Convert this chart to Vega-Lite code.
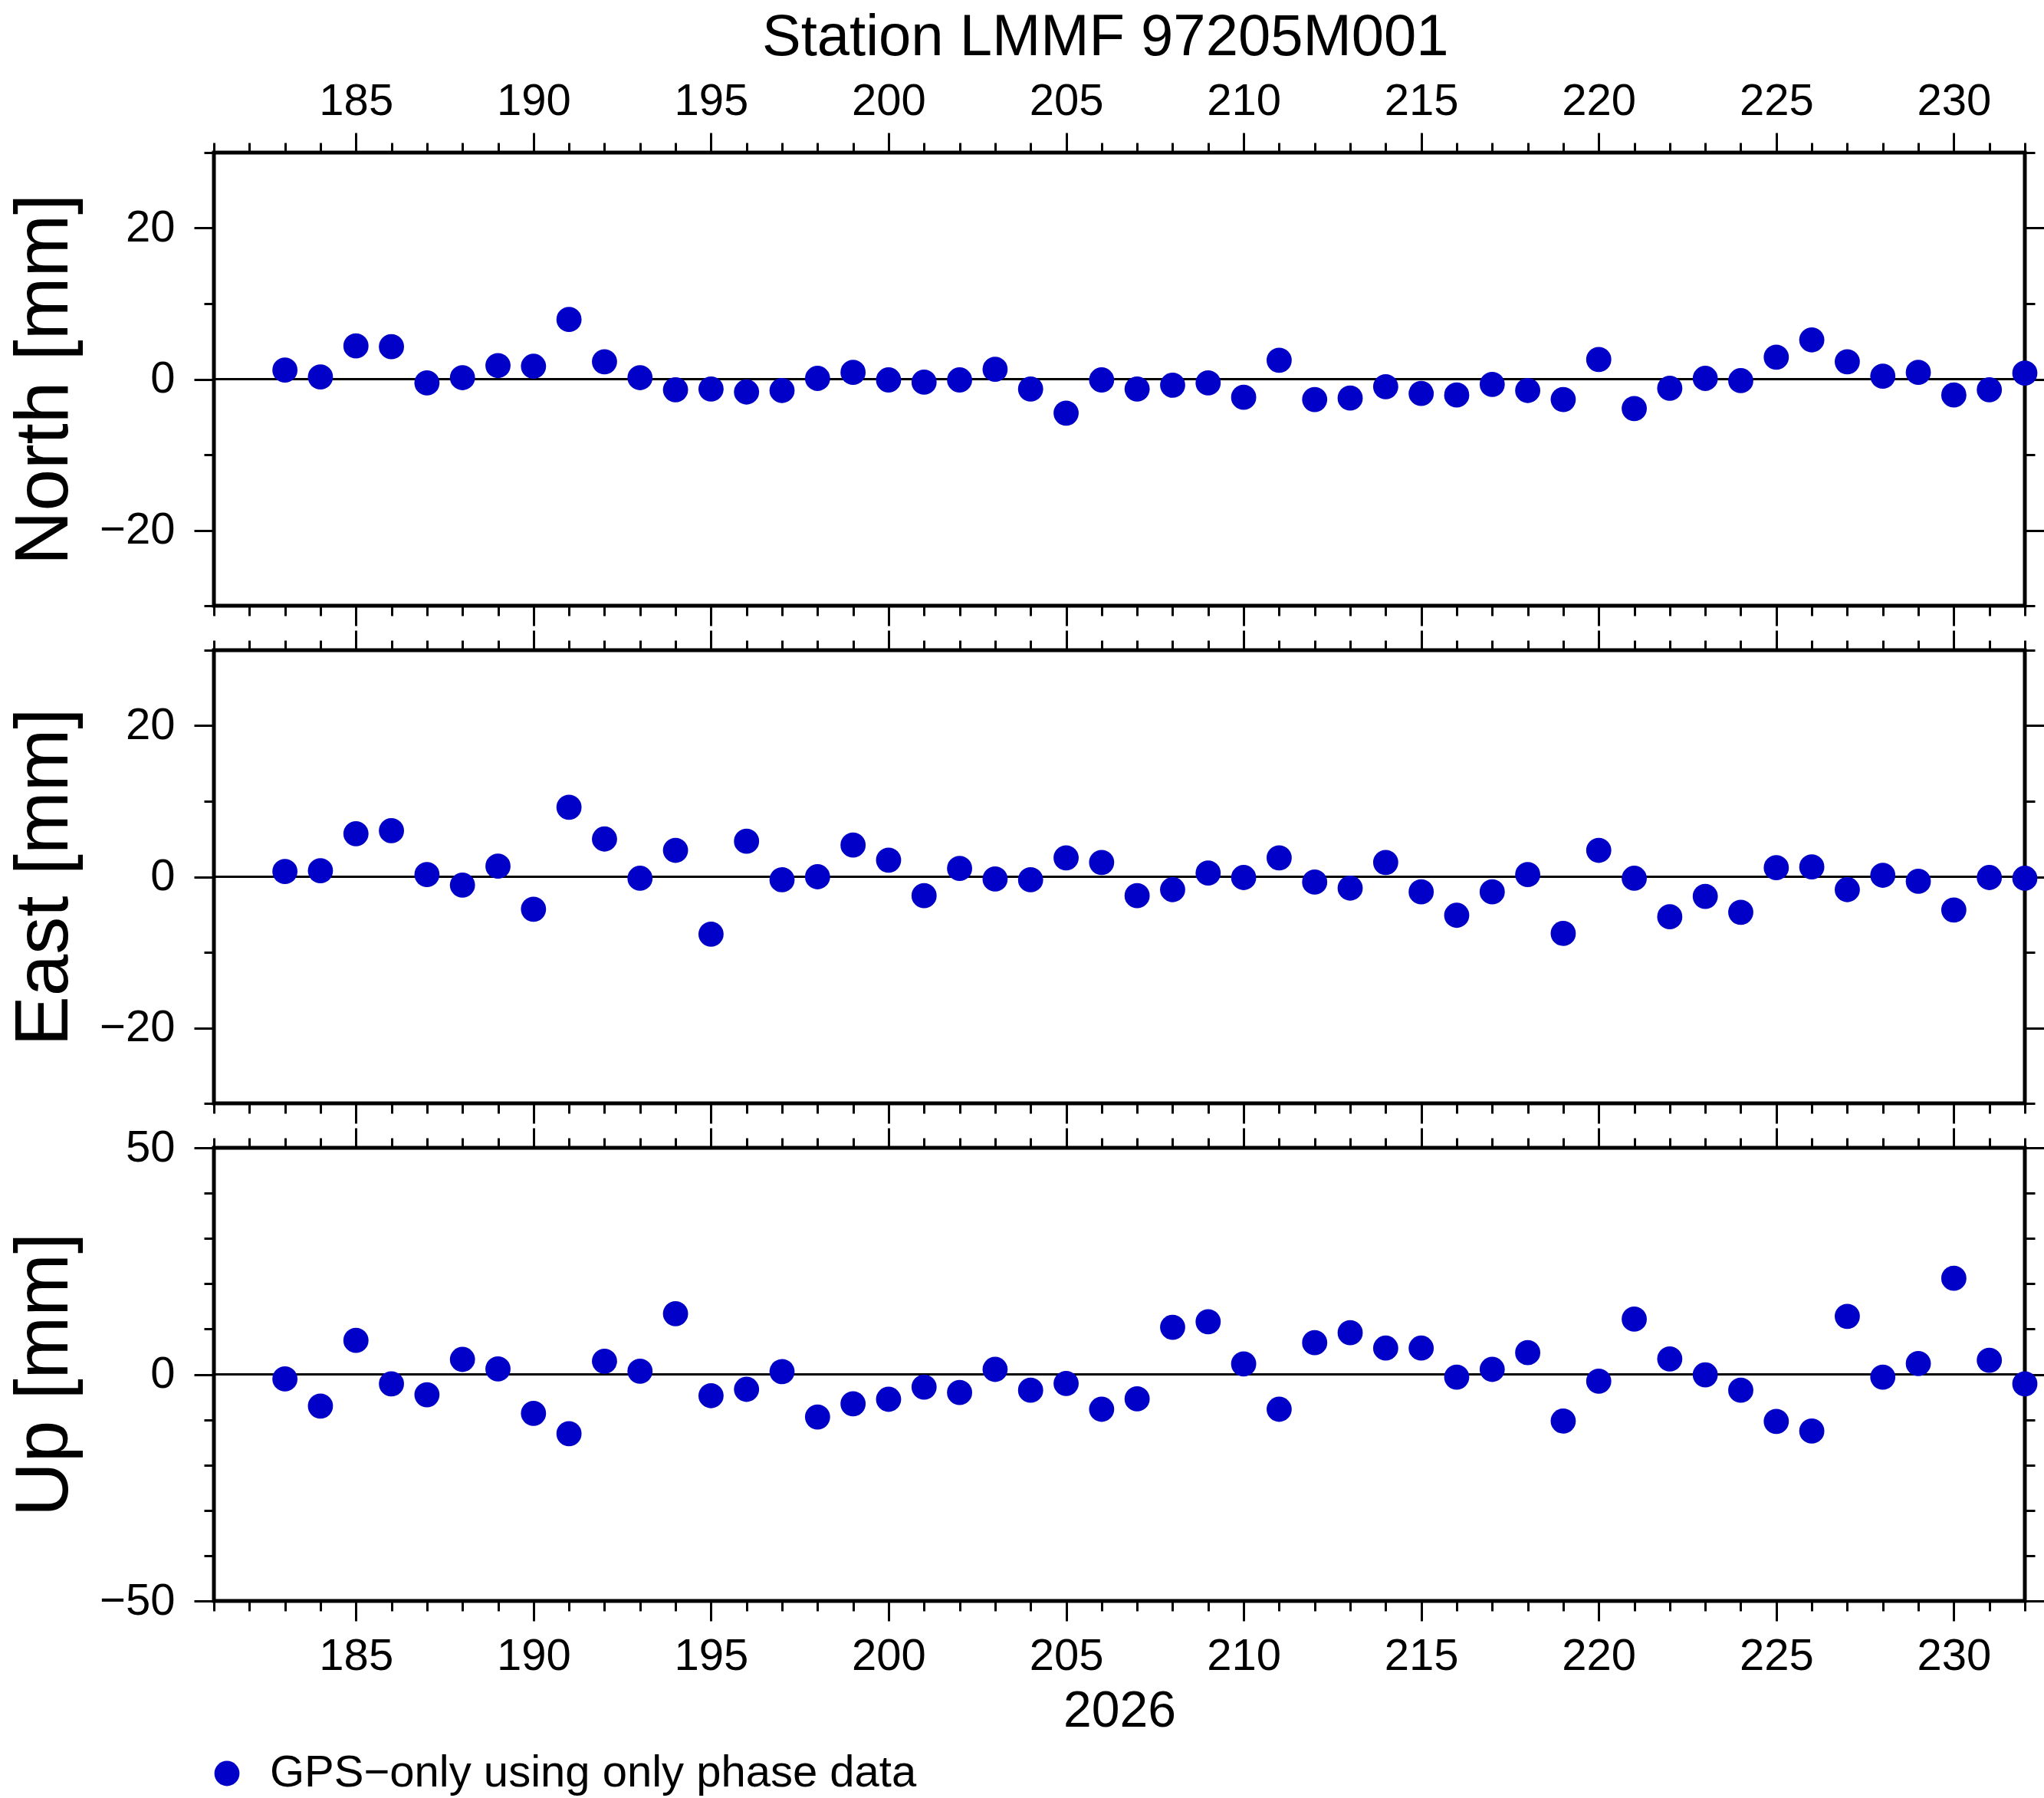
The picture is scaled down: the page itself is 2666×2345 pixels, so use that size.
{
  "$schema": "https://vega.github.io/schema/vega-lite/v6.json",
  "padding": {"left": 6, "top": 10, "right": 0, "bottom": 0},
  "background": "white",
  "title": {"text": "Station LMMF 97205M001", "fontSize": 76, "font": "Liberation Sans", "fontWeight": "normal", "color": "black", "anchor": "middle", "dx": 103, "offset": 13},
  "config": {
    "view": {"stroke": "black", "strokeWidth": 5},
    "axis": {"domain": false, "grid": false, "tickColor": "black", "tickWidth": 3, "labelFont": "Liberation Sans", "labelFontSize": 58, "labelColor": "black", "titleFont": "Liberation Sans", "titleFontWeight": "normal", "titleColor": "black", "labelOverlap": false, "labelFlush": false}
  },
  "data": {"values": [
    {"day": 183, "north": 1.2, "east": 0.7, "up": -1.0},
    {"day": 184, "north": 0.3, "east": 0.8, "up": -7.0},
    {"day": 185, "north": 4.4, "east": 5.7, "up": 7.5},
    {"day": 186, "north": 4.3, "east": 6.1, "up": -2.1},
    {"day": 187, "north": -0.5, "east": 0.3, "up": -4.5},
    {"day": 188, "north": 0.2, "east": -1.1, "up": 3.3},
    {"day": 189, "north": 1.8, "east": 1.4, "up": 1.2},
    {"day": 190, "north": 1.7, "east": -4.3, "up": -8.6},
    {"day": 191, "north": 7.9, "east": 9.2, "up": -13.1},
    {"day": 192, "north": 2.3, "east": 5.0, "up": 2.9},
    {"day": 193, "north": 0.2, "east": -0.2, "up": 0.7},
    {"day": 194, "north": -1.4, "east": 3.5, "up": 13.4},
    {"day": 195, "north": -1.3, "east": -7.6, "up": -4.7},
    {"day": 196, "north": -1.7, "east": 4.7, "up": -3.3},
    {"day": 197, "north": -1.5, "east": -0.4, "up": 0.6},
    {"day": 198, "north": 0.1, "east": 0.0, "up": -9.4},
    {"day": 199, "north": 0.9, "east": 4.2, "up": -6.5},
    {"day": 200, "north": -0.1, "east": 2.2, "up": -5.5},
    {"day": 201, "north": -0.4, "east": -2.5, "up": -2.8},
    {"day": 202, "north": -0.1, "east": 1.1, "up": -4.0},
    {"day": 203, "north": 1.3, "east": -0.3, "up": 1.1},
    {"day": 204, "north": -1.3, "east": -0.4, "up": -3.5},
    {"day": 205, "north": -4.5, "east": 2.5, "up": -2.0},
    {"day": 206, "north": -0.1, "east": 1.9, "up": -7.7},
    {"day": 207, "north": -1.3, "east": -2.5, "up": -5.4},
    {"day": 208, "north": -0.8, "east": -1.7, "up": 10.4},
    {"day": 209, "north": -0.5, "east": 0.5, "up": 11.6},
    {"day": 210, "north": -2.4, "east": -0.1, "up": 2.3},
    {"day": 211, "north": 2.5, "east": 2.5, "up": -7.7},
    {"day": 212, "north": -2.7, "east": -0.7, "up": 7.0},
    {"day": 213, "north": -2.5, "east": -1.5, "up": 9.2},
    {"day": 214, "north": -1.0, "east": 1.9, "up": 5.8},
    {"day": 215, "north": -1.9, "east": -2.0, "up": 5.8},
    {"day": 216, "north": -2.1, "east": -5.1, "up": -0.6},
    {"day": 217, "north": -0.7, "east": -2.0, "up": 1.1},
    {"day": 218, "north": -1.5, "east": 0.3, "up": 4.8},
    {"day": 219, "north": -2.7, "east": -7.5, "up": -10.3},
    {"day": 220, "north": 2.6, "east": 3.5, "up": -1.5},
    {"day": 221, "north": -3.9, "east": -0.2, "up": 12.2},
    {"day": 222, "north": -1.2, "east": -5.3, "up": 3.4},
    {"day": 223, "north": 0.1, "east": -2.6, "up": -0.1},
    {"day": 224, "north": -0.2, "east": -4.7, "up": -3.5},
    {"day": 225, "north": 2.9, "east": 1.2, "up": -10.4},
    {"day": 226, "north": 5.2, "east": 1.3, "up": -12.5},
    {"day": 227, "north": 2.3, "east": -1.7, "up": 12.8},
    {"day": 228, "north": 0.4, "east": 0.2, "up": -0.6},
    {"day": 229, "north": 0.9, "east": -0.6, "up": 2.4},
    {"day": 230, "north": -2.1, "east": -4.4, "up": 21.2},
    {"day": 231, "north": -1.4, "east": -0.1, "up": 3.1},
    {"day": 232, "north": 0.8, "east": -0.2, "up": -2.1}
  ]},
  "spacing": 58,
  "bounds": "flush",
  "resolve": {"scale": {"x": "independent", "y": "independent", "color": "independent"}, "legend": {"color": "independent"}},
  "vconcat": [
    {
      "width": 2362, "height": 591,
      "layer": [
        {"mark": {"type": "rule", "color": "black", "strokeWidth": 1.5},
         "encoding": {"y": {"datum": 0, "type": "quantitative", "scale": {"domain": [-30, 30], "nice": false, "zero": false}, "axis": null}}},
        {"mark": {"type": "circle", "size": 1075, "opacity": 1, "color": "#0000c8"},
         "encoding": {
           "x": {"field": "day", "type": "quantitative", "scale": {"domain": [181, 232], "nice": false, "zero": false},
                 "axis": {"orient": "bottom", "values": [181,182,183,184,185,186,187,188,189,190,191,192,193,194,195,196,197,198,199,200,201,202,203,204,205,206,207,208,209,210,211,212,213,214,215,216,217,218,219,220,221,222,223,224,225,226,227,228,229,230,231,232],
                          "tickSize": {"condition": {"test": "datum.value % 5 === 0", "value": 26}, "value": 13}, "labels": false, "title": null}},
           "y": {"field": "north", "type": "quantitative", "scale": {"domain": [-30, 30], "nice": false, "zero": false},
                 "axis": {"orient": "left", "values": [-30,-20,-10,0,10,20,30],
                          "tickSize": {"condition": {"test": "datum.value % 20 === 0", "value": 26}, "value": 13},
                          "labelExpr": "datum.value % 20 === 0 ? datum.label : ''", "labelPadding": 25,
                          "title": "North [mm]", "titleFontSize": 98, "titleAngle": -90, "titleX": -192, "titleY": 295.5, "titleBaseline": "alphabetic", "titleAlign": "center"}}
         }},
        {"mark": {"type": "circle", "opacity": 0},
         "encoding": {
           "x": {"field": "day", "type": "quantitative", "scale": {"domain": [181, 232], "nice": false, "zero": false},
                 "axis": {"orient": "top", "values": [181,182,183,184,185,186,187,188,189,190,191,192,193,194,195,196,197,198,199,200,201,202,203,204,205,206,207,208,209,210,211,212,213,214,215,216,217,218,219,220,221,222,223,224,225,226,227,228,229,230,231,232],
                          "tickSize": {"condition": {"test": "datum.value % 5 === 0", "value": 26}, "value": 13},
                          "labelExpr": "datum.value % 5 === 0 ? datum.label : ''", "labelDx": 23, "labelPadding": 12, "title": null}},
           "y": {"field": "north", "type": "quantitative", "scale": {"domain": [-30, 30], "nice": false, "zero": false},
                 "axis": {"orient": "right", "values": [-30,-20,-10,0,10,20,30],
                          "tickSize": {"condition": {"test": "datum.value % 20 === 0", "value": 26}, "value": 13}, "labels": false, "title": null}}
         }}
      ],
      "resolve": {"axis": {"x": "independent", "y": "independent"}}
    },
    {
      "width": 2362, "height": 591,
      "layer": [
        {"mark": {"type": "rule", "color": "black", "strokeWidth": 1.5},
         "encoding": {"y": {"datum": 0, "type": "quantitative", "scale": {"domain": [-30, 30], "nice": false, "zero": false}, "axis": null}}},
        {"mark": {"type": "circle", "size": 1075, "opacity": 1, "color": "#0000c8"},
         "encoding": {
           "x": {"field": "day", "type": "quantitative", "scale": {"domain": [181, 232], "nice": false, "zero": false},
                 "axis": {"orient": "bottom", "values": [181,182,183,184,185,186,187,188,189,190,191,192,193,194,195,196,197,198,199,200,201,202,203,204,205,206,207,208,209,210,211,212,213,214,215,216,217,218,219,220,221,222,223,224,225,226,227,228,229,230,231,232],
                          "tickSize": {"condition": {"test": "datum.value % 5 === 0", "value": 26}, "value": 13}, "labels": false, "title": null}},
           "y": {"field": "east", "type": "quantitative", "scale": {"domain": [-30, 30], "nice": false, "zero": false},
                 "axis": {"orient": "left", "values": [-30,-20,-10,0,10,20,30],
                          "tickSize": {"condition": {"test": "datum.value % 20 === 0", "value": 26}, "value": 13},
                          "labelExpr": "datum.value % 20 === 0 ? datum.label : ''", "labelPadding": 25,
                          "title": "East [mm]", "titleFontSize": 98, "titleAngle": -90, "titleX": -192, "titleY": 295.5, "titleBaseline": "alphabetic", "titleAlign": "center"}}
         }},
        {"mark": {"type": "circle", "opacity": 0},
         "encoding": {
           "x": {"field": "day", "type": "quantitative", "scale": {"domain": [181, 232], "nice": false, "zero": false},
                 "axis": {"orient": "top", "values": [181,182,183,184,185,186,187,188,189,190,191,192,193,194,195,196,197,198,199,200,201,202,203,204,205,206,207,208,209,210,211,212,213,214,215,216,217,218,219,220,221,222,223,224,225,226,227,228,229,230,231,232],
                          "tickSize": {"condition": {"test": "datum.value % 5 === 0", "value": 26}, "value": 13}, "labels": false, "title": null}},
           "y": {"field": "east", "type": "quantitative", "scale": {"domain": [-30, 30], "nice": false, "zero": false},
                 "axis": {"orient": "right", "values": [-30,-20,-10,0,10,20,30],
                          "tickSize": {"condition": {"test": "datum.value % 20 === 0", "value": 26}, "value": 13}, "labels": false, "title": null}}
         }}
      ],
      "resolve": {"axis": {"x": "independent", "y": "independent"}}
    },
    {
      "width": 2362, "height": 591,
      "layer": [
        {"mark": {"type": "rule", "color": "black", "strokeWidth": 1.5},
         "encoding": {"y": {"datum": 0, "type": "quantitative", "scale": {"domain": [-50, 50], "nice": false, "zero": false}, "axis": null}}},
        {"mark": {"type": "circle", "size": 1075, "opacity": 1},
         "encoding": {
           "x": {"field": "day", "type": "quantitative", "scale": {"domain": [181, 232], "nice": false, "zero": false},
                 "axis": {"orient": "bottom", "values": [181,182,183,184,185,186,187,188,189,190,191,192,193,194,195,196,197,198,199,200,201,202,203,204,205,206,207,208,209,210,211,212,213,214,215,216,217,218,219,220,221,222,223,224,225,226,227,228,229,230,231,232],
                          "tickSize": {"condition": {"test": "datum.value % 5 === 0", "value": 26}, "value": 13},
                          "labelExpr": "datum.value % 5 === 0 ? datum.label : ''", "labelDx": 23, "labelPadding": 17,
                          "title": "2026", "titleFontSize": 66, "titleX": 1181, "titleY": 163, "titleBaseline": "alphabetic", "titleAlign": "center", "titleAngle": 0}},
           "y": {"field": "up", "type": "quantitative", "scale": {"domain": [-50, 50], "nice": false, "zero": false},
                 "axis": {"orient": "left", "values": [-50,-40,-30,-20,-10,0,10,20,30,40,50],
                          "tickSize": {"condition": {"test": "datum.value % 50 === 0", "value": 26}, "value": 13},
                          "labelExpr": "datum.value % 50 === 0 ? datum.label : ''", "labelPadding": 25,
                          "title": "Up [mm]", "titleFontSize": 98, "titleAngle": -90, "titleX": -192, "titleY": 295.5, "titleBaseline": "alphabetic", "titleAlign": "center"}},
           "color": {"datum": "GPS−only using only phase data", "type": "nominal", "scale": {"range": ["#0000c8"]},
                     "legend": {"title": null, "orient": "none", "legendX": -12, "legendY": 787, "symbolType": "circle", "symbolSize": 1075, "symbolStrokeWidth": 0, "labelFontSize": 58, "labelFont": "Liberation Sans", "labelColor": "black", "labelOffset": 27, "padding": 0, "labelLimit": 2000}}
         }},
        {"mark": {"type": "circle", "opacity": 0},
         "encoding": {
           "x": {"field": "day", "type": "quantitative", "scale": {"domain": [181, 232], "nice": false, "zero": false},
                 "axis": {"orient": "top", "values": [181,182,183,184,185,186,187,188,189,190,191,192,193,194,195,196,197,198,199,200,201,202,203,204,205,206,207,208,209,210,211,212,213,214,215,216,217,218,219,220,221,222,223,224,225,226,227,228,229,230,231,232],
                          "tickSize": {"condition": {"test": "datum.value % 5 === 0", "value": 26}, "value": 13}, "labels": false, "title": null}},
           "y": {"field": "up", "type": "quantitative", "scale": {"domain": [-50, 50], "nice": false, "zero": false},
                 "axis": {"orient": "right", "values": [-50,-40,-30,-20,-10,0,10,20,30,40,50],
                          "tickSize": {"condition": {"test": "datum.value % 50 === 0", "value": 26}, "value": 13}, "labels": false, "title": null}}
         }}
      ],
      "resolve": {"axis": {"x": "independent", "y": "independent"}}
    }
  ]
}
